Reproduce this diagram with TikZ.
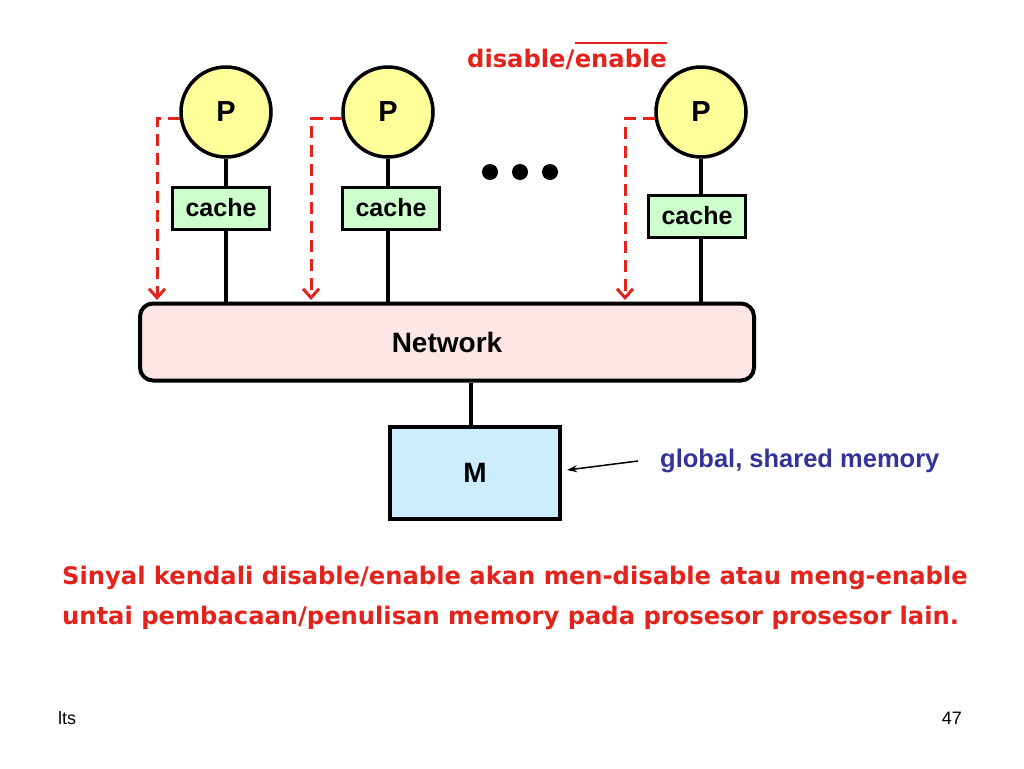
\documentclass[tikz,border=0pt]{standalone}
\usepackage{fontspec}
\setmainfont{Liberation Sans}
\newfontfamily\notefont{DejaVu Sans}
\usetikzlibrary{arrows.meta}
\definecolor{procfill}{HTML}{FFFF99}
\definecolor{cachefill}{HTML}{CCFFCC}
\definecolor{netfill}{HTML}{FFE6E6}
\definecolor{memfill}{HTML}{CCECFF}
\definecolor{sigred}{HTML}{E3221B}
\definecolor{notenavy}{HTML}{333399}
\tikzset{
  proc/.style={circle, draw, line width=3.5, fill=procfill, minimum size=90,
    inner sep=0, font=\fontsize{29}{33}\selectfont\bfseries},
  cachebox/.style={draw, line width=3, fill=cachefill, minimum width=97,
    minimum height=42, inner sep=0, font=\fontsize{25}{29}\selectfont\bfseries},
  wire/.style={line width=4},
  sig/.style={sigred, line width=3, dash pattern=on 12 off 7,
    -{Straight Barb[length=9,width=16,line width=3]}},
  remark/.style={sigred, font=\notefont\fontsize{24.2}{29}\selectfont\bfseries}
}
\begin{document}
\begin{tikzpicture}[x=1pt,y=-1pt]
  \useasboundingbox (0,0) rectangle (1024,768);
  % processors and caches
  \node[proc] (p1) at (226,112) {P};
  \node[proc] (p2) at (388,112) {P};
  \node[proc] (p3) at (701,112) {P};
  \node[cachebox] (c1) at (221,208) {cache};
  \node[cachebox] (c2) at (391,208) {cache};
  \node[cachebox] (c3) at (697,216) {cache};
  \foreach \x in {490,520,550}
    \fill (\x,172) circle (8);
  % network and memory
  \node[draw, line width=4, fill=netfill, rounded corners=13, minimum width=614,
    minimum height=77, font=\fontsize{28}{32}\selectfont\bfseries] (net) at (447,342) {Network};
  \node[draw, line width=4, fill=memfill, minimum width=170, minimum height=92,
    font=\fontsize{28}{32}\selectfont\bfseries] (mem) at (475,473) {M};
  \node[notenavy, anchor=west, inner sep=0, font=\fontsize{25.5}{30}\selectfont\bfseries] (gsm) at (660,461)
    {global, shared memory};
  \coordinate (tip) at (567,470);
  % connections
  \draw[wire] (p1.south) -- (p1.south |- c1.north);
  \draw[wire] (p2.south) -- (p2.south |- c2.north);
  \draw[wire] (p3.south) -- (p3.south |- c3.north);
  \draw[wire] (p1.south |- c1.south) -- (p1.south |- net.north);
  \draw[wire] (p2.south |- c2.south) -- (p2.south |- net.north);
  \draw[wire] (p3.south |- c3.south) -- (p3.south |- net.north);
  \draw[wire] ([xshift=24]net.south) -- ([xshift=24]net.south |- mem.north);
  \draw[line width=1.5, -{Stealth[length=10,width=7]}] ([xshift=-22]gsm.west) -- (tip);
  % disable/enable signals
  \coordinate (a1) at (157,300);
  \coordinate (a2) at (311,300);
  \coordinate (a3) at (625,300);
  \draw[sig] (p1.188) -| (a1);
  \draw[sig] (p2.188) -| (a2);
  \draw[sig] (p3.188) -| (a3);
  \node[remark, anchor=base west, inner sep=0] (dis) at (467,67) {disable/};
  \node[remark, anchor=base west, inner sep=0] (en) at (dis.base east) {enable};
  \draw[sigred, line width=2] ([yshift=5]en.north west) -- ([yshift=5]en.north east);
  % remark text
  \node[remark, anchor=west, inner sep=0] (line1) at (62,578) {Sinyal kendali disable/enable akan men-disable atau meng-enable};
  \node[remark, anchor=west, inner sep=0] (line2) at (62,618) {untai pembacaan/penulisan memory pada prosesor prosesor lain.};
  % footer
  \node[anchor=west, inner sep=0, font=\fontsize{18}{21}\selectfont] (lts) at (58,718) {lts};
  \node[anchor=east, inner sep=0, font=\fontsize{18}{21}\selectfont] (pg) at (962,718) {47};
\end{tikzpicture}
\end{document}
